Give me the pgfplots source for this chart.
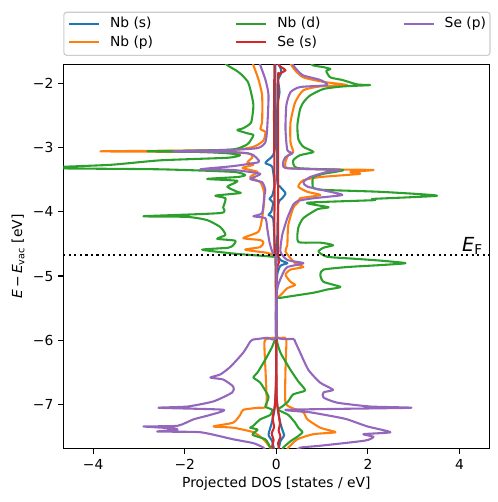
\documentclass[border=0pt]{standalone}
\usepackage{fontspec}
\setmainfont{DejaVu Sans}
\usepackage{pgfplots}
\pgfplotsset{compat=1.18}
\definecolor{c0}{HTML}{1F77B4}
\definecolor{c1}{HTML}{FF7F0E}
\definecolor{c2}{HTML}{2CA02C}
\definecolor{c3}{HTML}{D62728}
\definecolor{c4}{HTML}{9467BD}
\definecolor{legframe}{HTML}{CCCCCC}
\pgfplotsset{dos/.style={line width=1.5bp, line join=round, smooth, tension=0.35, forget plot}}
\begin{document}
\begin{tikzpicture}
\useasboundingbox (0,0) rectangle (358.56bp,361.44bp);
\begin{axis}[
  at={(45.6bp,38.2bp)}, anchor=south west,
  scale only axis, width=306.7bp, height=277bp,
  xmin=-4.65, xmax=4.65, ymin=-7.69, ymax=-1.705,
  axis line style={line width=0.8bp},
  tick align=outside, xtick pos=bottom, ytick pos=left,
  major tick length=3.5bp,
  every tick/.style={black, line width=0.8bp},
  xtick={-4,-2,0,2,4}, xticklabels={−4,−2,0,2,4},
  ytick={-7,-6,-5,-4,-3,-2}, yticklabels={−7,−6,−5,−4,−3,−2},
  xticklabel style={font=\fontsize{10}{12}\selectfont, inner sep=0pt, text height=7.3bp, text depth=0bp, anchor=north},
  yticklabel style={font=\fontsize{10}{12}\selectfont, inner sep=0pt, text height=7.3bp, text depth=0bp, anchor=east},
  xticklabel shift=3.5bp, yticklabel shift=3.5bp,
  xlabel={Projected DOS [states / eV]},
  ylabel={\textit{E}\,−\,\textit{E}\textsubscript{vac} [eV]},
  every axis x label/.style={at={(axis description cs:0.5,-0.091)}, anchor=center, font=\fontsize{10}{12}\selectfont},
  every axis y label/.style={at={(axis description cs:-0.1063,0.5)}, anchor=center, rotate=90, font=\fontsize{10}{12}\selectfont},
  no markers,
  legend columns=3,
  legend image code/.code={\draw[#1, line width=1.5bp] (0bp,2.7bp) -- (21.6bp,2.7bp);},
  legend style={at={(0,1)}, anchor=south west, yshift=6bp, draw=legframe, line width=0.8bp, rounded corners=2bp, inner xsep=2.9bp, inner ysep=3bp, font=\fontsize{10}{12}\selectfont, row sep=1.0bp, cells={anchor=base west}, nodes={inner sep=0pt, text height=8.3bp, text depth=3.7bp}, /tikz/every odd column/.append style={column sep=7.2bp}, /tikz/every even column/.append style={column sep=10.2bp}},
]
% Nb (s)
\addplot[c0, dos] coordinates {(-0.02,-1.64) (-0.02,-2.89) (-0.07,-3.12) (-0.24,-3.24) (-0.09,-3.30) (-0.04,-3.58) (-0.09,-3.75) (-0.15,-3.80) (-0.07,-3.86) (-0.11,-4.00) (-0.17,-4.05) (-0.07,-4.10) (-0.04,-4.44) (-0.02,-4.67) (-0.005,-4.75) (-0.005,-6.61) (-0.04,-7.08) (-0.11,-7.31) (-0.17,-7.47) (-0.09,-7.57) (-0.04,-7.73)};
\addplot[c0, dos] coordinates {(0.02,-1.64) (0.07,-1.72) (0.11,-1.83) (0.04,-1.95) (0.07,-2.14) (0.02,-2.42) (0.02,-3.51) (0.07,-3.60) (0.20,-3.71) (0.13,-3.79) (0.04,-3.89) (0.02,-4.62) (0.09,-4.75) (0.24,-4.80) (0.09,-4.84) (0.02,-4.98) (0.005,-5.37) (0.005,-6.84) (0.07,-7.23) (0.13,-7.39) (0.17,-7.48) (0.09,-7.57) (0.04,-7.73)};
% Nb (p)
\addplot[c1, dos] coordinates {(-0.52,-1.64) (-0.50,-1.72) (-0.39,-1.94) (-0.31,-2.19) (-0.31,-2.61) (-0.35,-2.71) (-0.24,-2.76) (-0.28,-2.89) (-0.50,-2.99) (-1.07,-3.04) (-3.84,-3.06) (-1.66,-3.07) (-0.63,-3.09) (-0.52,-3.15) (-0.63,-3.23) (-0.50,-3.27) (-0.74,-3.32) (-0.41,-3.38) (-0.57,-3.46) (-0.35,-3.54) (-0.28,-3.66) (-0.26,-3.79) (-0.31,-4.10) (-0.39,-4.31) (-0.72,-4.41) (-0.35,-4.44) (-0.28,-4.48) (-0.35,-4.55) (-0.68,-4.59) (-0.20,-4.64) (-0.02,-4.69) (-0.005,-4.75) (-0.005,-5.93) (-0.07,-5.96) (-0.24,-5.99) (-0.26,-6.10) (-0.22,-6.72) (-0.22,-7.03) (-0.41,-7.05) (-0.72,-7.08) (-0.79,-7.16) (-0.94,-7.28) (-1.37,-7.34) (-0.94,-7.36) (-0.50,-7.43) (-0.28,-7.54) (-0.13,-7.67) (-0.11,-7.73)};
\addplot[c1, dos] coordinates {(0.28,-1.64) (0.33,-1.72) (0.41,-1.80) (0.59,-1.91) (1.03,-1.98) (1.55,-2.03) (0.96,-2.05) (0.59,-2.11) (0.41,-2.30) (0.31,-2.61) (0.31,-2.92) (0.37,-3.07) (0.26,-3.12) (0.20,-3.23) (0.24,-3.32) (0.96,-3.34) (2.12,-3.35) (1.62,-3.38) (1.83,-3.41) (0.96,-3.46) (0.59,-3.51) (0.48,-3.61) (0.68,-3.69) (0.96,-3.74) (0.52,-3.79) (0.48,-3.85) (0.37,-3.94) (0.26,-4.21) (0.24,-4.52) (0.20,-4.62) (0.41,-4.80) (0.59,-4.86) (0.31,-4.90) (0.20,-4.98) (0.31,-5.09) (0.41,-5.14) (0.24,-5.19) (0.09,-5.30) (0.02,-5.34) (0.005,-5.37) (0.005,-5.93) (0.15,-5.96) (0.22,-5.99) (0.20,-6.46) (0.20,-6.97) (0.37,-7.06) (0.59,-7.12) (0.68,-7.23) (0.96,-7.36) (1.29,-7.43) (0.81,-7.46) (0.46,-7.54) (0.26,-7.67) (0.22,-7.73)};
% Nb (d)
\addplot[c2, dos] coordinates {(-1.18,-1.64) (-1.07,-1.72) (-0.86,-1.81) (-0.74,-1.88) (-0.62,-1.98) (-0.57,-2.09) (-0.50,-2.34) (-0.55,-2.61) (-0.72,-2.70) (-0.85,-2.73) (-0.63,-2.78) (-0.50,-2.81) (-0.63,-2.95) (-0.94,-3.03) (-1.88,-3.05) (-2.82,-3.06) (-1.66,-3.07) (-1.07,-3.09) (-0.79,-3.12) (-1.07,-3.16) (-2.53,-3.20) (-3.62,-3.27) (-5.15,-3.32) (-2.53,-3.34) (-0.94,-3.38) (-0.68,-3.43) (-0.85,-3.46) (-1.51,-3.49) (-0.85,-3.52) (-1.07,-3.61) (-0.85,-3.69) (-0.79,-3.71) (-1.33,-3.75) (-1.11,-3.79) (-1.16,-3.93) (-1.22,-4.02) (-2.90,-4.07) (-1.94,-4.08) (-1.51,-4.13) (-1.22,-4.24) (-1.11,-4.36) (-1.29,-4.42) (-0.90,-4.45) (-0.94,-4.52) (-1.05,-4.56) (-1.62,-4.59) (-1.07,-4.64) (-0.79,-4.66) (-0.07,-4.70) (-0.02,-4.73) (-0.005,-5.84) (-0.02,-5.96) (-0.09,-6.10) (-0.24,-6.30) (-0.41,-6.50) (-0.50,-6.58) (-0.35,-6.66) (-0.17,-6.88) (-0.24,-7.03) (-0.09,-7.08) (-0.13,-7.16) (-0.35,-7.23) (-0.52,-7.34) (-0.57,-7.36) (-0.41,-7.39) (-0.52,-7.47) (-0.24,-7.54) (-0.13,-7.67) (-0.09,-7.73)};
\addplot[c2, dos] coordinates {(0.74,-1.64) (0.79,-1.72) (1.03,-1.75) (1.18,-1.78) (1.09,-1.81) (1.18,-1.91) (1.44,-1.95) (1.77,-2.02) (2.05,-2.03) (1.46,-2.05) (1.03,-2.09) (0.74,-2.19) (0.60,-2.29) (0.52,-2.40) (0.46,-2.65) (0.48,-2.87) (0.59,-2.99) (0.81,-3.07) (0.52,-3.12) (0.37,-3.20) (0.46,-3.32) (1.46,-3.35) (1.03,-3.41) (0.81,-3.46) (0.79,-3.54) (0.81,-3.63) (1.03,-3.66) (2.27,-3.69) (3.51,-3.75) (2.12,-3.80) (2.12,-3.82) (0.68,-3.86) (1.14,-3.93) (0.90,-3.96) (0.59,-4.10) (0.48,-4.25) (0.48,-4.47) (0.96,-4.48) (1.24,-4.52) (1.03,-4.56) (0.92,-4.62) (1.11,-4.70) (1.68,-4.73) (2.27,-4.76) (2.82,-4.80) (2.27,-4.83) (1.55,-4.86) (1.03,-4.90) (0.96,-4.98) (1.03,-5.09) (1.40,-5.17) (1.11,-5.21) (0.81,-5.26) (0.09,-5.34) (0.005,-5.37) (0.005,-5.96) (0.09,-6.19) (0.31,-6.46) (0.48,-6.64) (0.63,-6.78) (0.37,-6.84) (0.26,-6.95) (0.13,-7.03) (0.04,-7.08) (0.26,-7.16) (0.41,-7.28) (0.48,-7.36) (0.57,-7.43) (0.46,-7.50) (0.31,-7.57) (0.15,-7.67) (0.11,-7.73)};
% Se (s)
\addplot[c3, dos] coordinates {(-0.04,-1.64) (-0.05,-2.5) (-0.04,-3.5) (-0.04,-4.6) (-0.01,-4.75) (-0.005,-6.5) (-0.03,-7.0) (-0.08,-7.2) (-0.05,-7.35) (-0.10,-7.45) (-0.06,-7.55) (-0.09,-7.65) (-0.05,-7.73)};
\addplot[c3, dos] coordinates {(0.03,-1.64) (0.05,-1.72) (0.20,-1.80) (0.06,-1.86) (0.04,-2.0) (0.04,-4.6) (0.06,-4.78) (0.005,-5.0) (0.005,-6.8) (0.04,-7.1) (0.08,-7.3) (0.05,-7.4) (0.09,-7.5) (0.04,-7.6) (0.07,-7.73)};
% Se (p)
\addplot[c4, dos] coordinates {(-0.37,-1.64) (-0.35,-1.72) (-0.24,-1.94) (-0.17,-2.19) (-0.20,-2.71) (-0.24,-2.92) (-0.41,-3.01) (-1.07,-3.04) (-2.25,-3.06) (-1.00,-3.07) (-0.63,-3.09) (-0.50,-3.12) (-0.41,-3.18) (-0.39,-3.23) (-0.94,-3.29) (-1.66,-3.34) (-0.94,-3.35) (-0.35,-3.41) (-0.57,-3.49) (-0.31,-3.54) (-0.24,-3.66) (-0.26,-3.74) (-0.31,-4.02) (-0.50,-4.07) (-0.24,-4.10) (-0.20,-4.25) (-0.15,-4.47) (-0.09,-4.62) (-0.02,-4.70) (0,-4.75) (0,-5.93) (-0.20,-5.96) (-0.52,-5.99) (-0.57,-6.02) (-0.72,-6.19) (-1.00,-6.41) (-1.22,-6.53) (-1.44,-6.58) (-1.16,-6.61) (-0.94,-6.72) (-0.96,-6.81) (-1.37,-6.95) (-1.94,-7.03) (-2.57,-7.05) (-1.16,-7.08) (-1.44,-7.16) (-1.81,-7.23) (-2.16,-7.33) (-2.90,-7.34) (-2.25,-7.37) (-2.16,-7.39) (-2.60,-7.42) (-1.66,-7.43) (-0.94,-7.54) (-0.50,-7.60) (-0.28,-7.67) (-0.22,-7.73)};
\addplot[c4, dos] coordinates {(0.35,-1.64) (0.37,-1.72) (0.46,-1.80) (0.59,-1.88) (0.96,-1.95) (1.11,-2.03) (0.52,-2.06) (0.31,-2.14) (0.22,-2.34) (0.20,-2.71) (0.24,-3.04) (0.35,-3.09) (0.20,-3.15) (0.15,-3.23) (0.20,-3.32) (0.96,-3.34) (1.40,-3.35) (1.11,-3.38) (0.74,-3.46) (0.59,-3.54) (0.68,-3.61) (1.18,-3.69) (1.44,-3.74) (0.81,-3.79) (0.48,-3.83) (0.37,-3.89) (0.24,-4.10) (0.13,-4.36) (0.09,-4.62) (0.24,-4.75) (0.59,-4.80) (0.24,-4.86) (0.15,-4.95) (0.04,-5.14) (0,-5.34) (0,-5.94) (0.37,-5.98) (0.41,-6.02) (0.52,-6.19) (0.70,-6.46) (0.96,-6.66) (1.24,-6.77) (1.03,-6.81) (1.03,-6.89) (1.33,-6.97) (2.05,-7.03) (2.93,-7.05) (0.24,-7.08) (0.74,-7.12) (1.29,-7.19) (1.55,-7.23) (1.99,-7.34) (2.49,-7.43) (1.90,-7.46) (2.12,-7.50) (1.94,-7.56) (0.96,-7.64) (0.52,-7.67) (0.41,-7.73)};
% Fermi level
\addplot[black, sharp plot, line width=1.5bp, dash pattern=on 1.5bp off 2.475bp, forget plot] coordinates {(-4.65,-4.68) (4.65,-4.68)};
\node[anchor=base east, inner sep=0pt, font=\fontsize{14}{16}\selectfont] at (axis cs:4.50,-4.625) {\textit{E}\raisebox{-2.2bp}{\fontsize{9.8}{10}\selectfont F}};
% legend (column-wise order as in the original)
\addlegendimage{c0}\addlegendentry{\makebox[80bp][l]{Nb (s)}}
\addlegendimage{c2}\addlegendentry{\makebox[80bp][l]{Nb (d)}}
\addlegendimage{c4}\addlegendentry{Se (p)}
\addlegendimage{c1}\addlegendentry{\makebox[80bp][l]{Nb (p)}}
\addlegendimage{c3}\addlegendentry{\makebox[80bp][l]{Se (s)}}
\end{axis}
\end{tikzpicture}
\end{document}
